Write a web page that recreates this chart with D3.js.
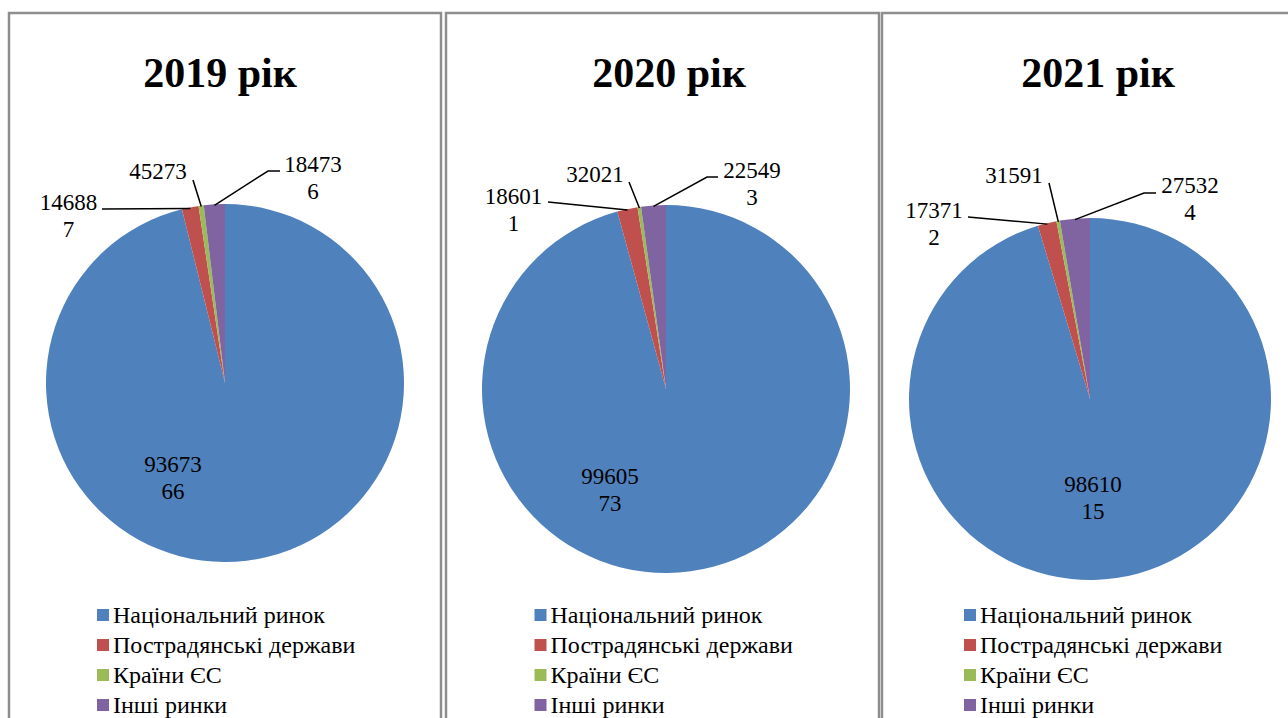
<!DOCTYPE html>
<html>
<head>
<meta charset="utf-8">
<script src="https://cdn.jsdelivr.net/npm/d3@7/dist/d3.min.js"></script>
<style>
  html, body { margin: 0; padding: 0; background: #fff; }
  svg { display: block; }
  text { font-family: "Liberation Serif", "Times New Roman", serif; fill: #000; }
</style>
</head>
<body>
<svg id="chart" width="1288" height="718"></svg>
<script>
// Export structure by market, three years
const categories = ["Національний ринок", "Пострадянські держави", "Країни ЄС", "Інші ринки"];
const years = ["2019 рік", "2020 рік", "2021 рік"];
const values2019 = [9367366, 146887, 45273, 184736];
const values2020 = [9960573, 186011, 32021, 225493];
const values2021 = [9861015, 173712, 31591, 275324];
const colors = ["#4F81BD", "#C0504D", "#9BBB59", "#8064A2"];

const seriesByYear = [values2019, values2020, values2021];

// Layout of each panel: frame, pie centre/radius, title and label placement
const panels = [
  { x: 9,   w: 432, cx: 225,  cy: 383, r: 179, titleX: 220,
    labels: [
      { text: [-52, 89] },
      { text: [-156.5, -173], lead: [[-123, -174]] },
      { text: [-67, -204],    lead: [[-32, -203]] },
      { text: [88, -211],     lead: [[55, -212], [43, -212]] }
    ] },
  { x: 446, w: 433, cx: 666,  cy: 389, r: 184, titleX: 669,
    labels: [
      { text: [-56, 95] },
      { text: [-152.5, -185], lead: [[-118, -187]] },
      { text: [-71, -207],    lead: [[-37, -207]] },
      { text: [86, -211],     lead: [[52, -212], [41, -212]] }
    ] },
  { x: 882, w: 420, cx: 1090, cy: 399, r: 181, titleX: 1098,
    labels: [
      { text: [3, 93] },
      { text: [-156, -181], lead: [[-122, -182]] },
      { text: [-76, -216],  lead: [[-41, -216]] },
      { text: [100, -206],  lead: [[66, -206], [54, -206]] }
    ] }
];

const svg = d3.select("#chart");
const pie = d3.pie().sort(null).value(d => d);
const color = d3.scaleOrdinal().domain(categories).range(colors);

// Long numbers wrap into lines of five digits
const wrapValue = v => String(v).match(/.{1,5}/g);

panels.forEach((p, i) => {
  const g = svg.append("g");

  // panel frame
  g.append("rect")
    .attr("x", p.x).attr("y", 13)
    .attr("width", p.w).attr("height", 740)
    .attr("fill", "none")
    .attr("stroke", "#8e8e8e")
    .attr("stroke-width", 2.5);

  // title
  g.append("text")
    .attr("x", p.titleX).attr("y", 87)
    .attr("text-anchor", "middle")
    .style("font-size", "42px")
    .style("font-weight", "bold")
    .text(years[i]);

  const arcs = pie(seriesByYear[i]);
  const arc = d3.arc().innerRadius(0).outerRadius(p.r);
  const pieG = g.append("g").attr("transform", `translate(${p.cx},${p.cy})`);

  pieG.selectAll("path")
    .data(arcs)
    .join("path")
    .attr("d", arc)
    .attr("fill", (d, k) => color(categories[k]));

  // leader lines for the thin slices
  arcs.forEach((d, k) => {
    const L = p.labels[k];
    if (!L.lead) return;
    const mid = (d.startAngle + d.endAngle) / 2;
    const edge = [Math.sin(mid) * (p.r - 1), -Math.cos(mid) * (p.r - 1)];
    pieG.append("polyline")
      .attr("points", [...L.lead, edge].map(pt => pt.join(",")).join(" "))
      .attr("fill", "none")
      .attr("stroke", "#000")
      .attr("stroke-width", 1.5);
  });

  // value labels
  arcs.forEach((d, k) => {
    const L = p.labels[k];
    const t = pieG.append("text")
      .attr("text-anchor", "middle")
      .style("font-size", "23px");
    wrapValue(d.data).forEach((line, j) => {
      t.append("tspan")
        .attr("x", L.text[0])
        .attr("y", L.text[1] + j * 27)
        .text(line);
    });
  });

  // legend
  const legendX = p.x + p.w / 2 - 128;
  const lg = g.append("g");
  categories.forEach((c, k) => {
    const y = 623 + k * 30;
    lg.append("rect")
      .attr("x", legendX).attr("y", y - 14)
      .attr("width", 12).attr("height", 12)
      .attr("fill", color(c));
    lg.append("text")
      .attr("x", legendX + 16).attr("y", y)
      .style("font-size", "24px")
      .text(c);
  });
});
</script>
</body>
</html>
